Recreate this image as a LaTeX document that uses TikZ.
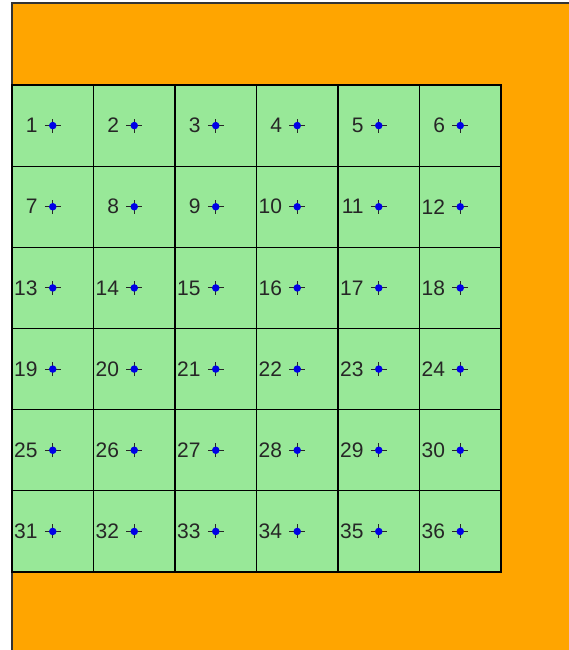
\documentclass[tikz,border=0pt]{standalone}
\usepackage{fontspec}
\setmainfont{Liberation Sans}
\usetikzlibrary{positioning, calc}
\definecolor{fieldorange}{HTML}{FFA500}
\definecolor{plotgreen}{HTML}{98E898}
\definecolor{markblue}{HTML}{0000E6}

\begin{document}
\begin{tikzpicture}[x=1pt, y=-1pt,
    cell/.style={rectangle, draw=black, fill=plotgreen, line width=1.2pt, minimum width=81.5pt, minimum height=81.2pt, inner sep=0pt, outer sep=0pt},
    starmk/.style={circle, fill=markblue, minimum size=7.5pt, inner sep=0pt},
    arm/.style={line width=1.1pt, black!85},
    num/.style={font=\fontsize{21}{25}\selectfont, text=black!85, inner sep=0pt},
    edge/.style={draw=black!80, line width=1.6pt},
  ]
    \useasboundingbox (0,0) rectangle (569,650);
    \fill[white] (0,0) rectangle (569,650);
    \fill[fieldorange] (12,3) rectangle (569,650);
    \draw[edge] (12,650) -- (12,3) -- (569,3);

    % plot cells, row by row
    \foreach \r in {1,...,6}
      \foreach \c in {1,...,6} {
        \pgfmathtruncatemacro\n{(\r-1)*6+\c}
        \node[cell] (cell-\n) at ({12+81.5*(\c-0.5)}, {85+81.17*(\r-0.5)}) {};
      }

    % centre markers and numbers
    \foreach \n in {1,...,36} {
      \draw[arm] ([xshift=-8pt]cell-\n.center) -- ([xshift=8pt]cell-\n.center);
      \draw[arm] ([yshift=-7pt]cell-\n.center) -- ([yshift=7pt]cell-\n.center);
      \node[starmk] (mk-\n) at (cell-\n.center) {};
      \node[num, left=11pt of mk-\n] (lb-\n) {\n};
    }
  \end{tikzpicture}
\end{document}
